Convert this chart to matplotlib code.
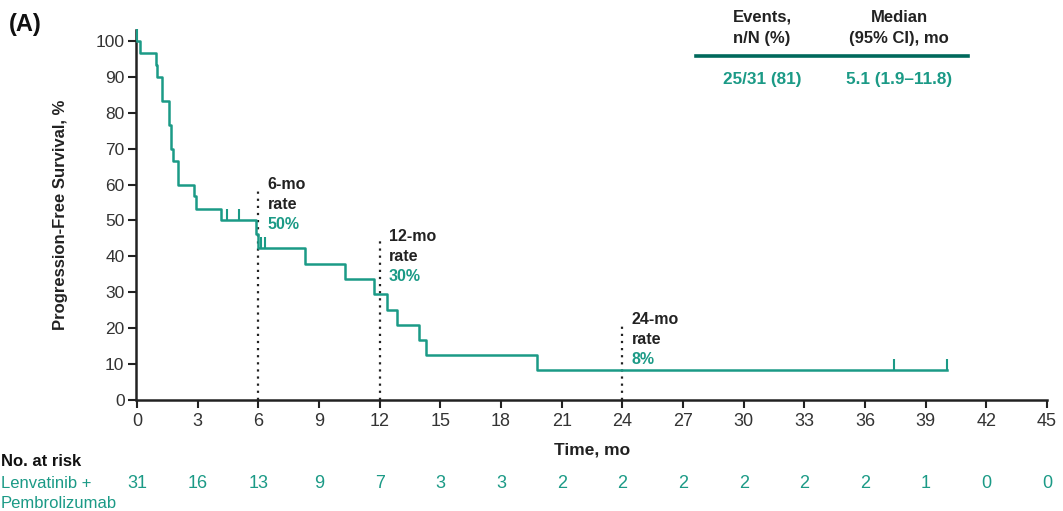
import matplotlib
matplotlib.use("Agg")
import matplotlib.pyplot as plt
import matplotlib.transforms as mtransforms
from matplotlib import font_manager

# ---------------- data ----------------
step_times = [0, 0.15, 0.94, 1.0, 1.25, 1.6, 1.67, 1.8, 2.04, 2.83, 2.92, 4.15,
              5.9, 6.0, 8.3, 10.3, 11.72, 12.38, 12.87, 13.96, 14.27, 19.8, 40.06]
step_surv = [100, 96.7, 93.3, 90.0, 83.3, 76.7, 70.0, 66.7, 60.0, 56.7, 53.3, 50.0,
             46.2, 42.2, 37.9, 33.6, 29.4, 25.2, 20.9, 16.7, 12.5, 8.3, 8.3]
censor_times = [0.0, 4.43, 5.04, 6.15, 6.35, 37.45, 40.06]
censor_surv = [100, 50.0, 50.0, 42.2, 42.2, 8.3, 8.3]

landmark_months = [6, 12, 24]
landmark_labels = ["6-mo", "12-mo", "24-mo"]
landmark_rates = ["50%", "30%", "8%"]
landmark_line_top = [59, 44.5, 21.5]

risk_times = [0, 3, 6, 9, 12, 15, 18, 21, 24, 27, 30, 33, 36, 39, 42, 45]
risk_counts = [31, 16, 13, 9, 7, 3, 3, 2, 2, 2, 2, 2, 2, 1, 0, 0]

x_ticks = list(range(0, 46, 3))
y_ticks = list(range(0, 101, 10))

table_headers = ["Events,\nn/N (%)", "Median\n(95% CI), mo"]
table_values = ["25/31 (81)", "5.1 (1.9\u201311.8)"]

# ---------------- style ----------------
TEAL = "#1b9a86"
DARK_TEAL = "#00695c"
BLACK = "#222222"

available = {f.name for f in font_manager.fontManager.ttflist}
base_font = "Liberation Sans" if "Liberation Sans" in available else "DejaVu Sans"
narrow_font = "Liberation Sans Narrow" if "Liberation Sans Narrow" in available else base_font
plt.rcParams["font.family"] = [base_font, "DejaVu Sans"]

W, H = 1063, 511
fig = plt.figure(figsize=(W / 100, H / 100), dpi=100)

# axes placement in pixels
x0_px, x45_px = 137, 1047
y0_px, y103_px = 400, 30.2
ax = fig.add_axes([x0_px / W, 1 - y0_px / H, (x45_px - x0_px) / W, (y0_px - y103_px) / H])
ax.set_xlim(0, 45)
ax.set_ylim(0, 103)

for s in ["top", "right"]:
    ax.spines[s].set_visible(False)
for s in ["left", "bottom"]:
    ax.spines[s].set_linewidth(1.8)
    ax.spines[s].set_color(BLACK)
ax.spines["left"].set_position(("outward", 1))

ax.set_xticks(x_ticks)
ax.set_yticks(y_ticks)
ax.tick_params(axis="both", direction="out", length=6, width=1.5, color=BLACK,
               labelcolor="#333333", labelsize=12.5)
ax.tick_params(axis="y", pad=2)
for lab in ax.get_xticklabels():
    lab.set_fontfamily([narrow_font, "DejaVu Sans"])
    lab.set_fontsize(13)

ax.set_ylabel("Progression-Free Survival, %", fontsize=12, fontweight="bold",
              color=BLACK, labelpad=20)
ax.set_xlabel("Time, mo", fontsize=12.5, fontweight="bold", color=BLACK,
              family=[narrow_font, "DejaVu Sans"], labelpad=9)

# KM curve
ax.step(step_times, step_surv, where="post", color=TEAL, lw=1.8, clip_on=False, zorder=3)
ax.vlines(censor_times, censor_surv, [c + 3.2 for c in censor_surv], color=TEAL, lw=1.5,
          clip_on=False, zorder=3)

# landmark lines and annotations
for m, lab, rate, top in zip(landmark_months, landmark_labels, landmark_rates, landmark_line_top):
    ax.vlines(m, 0, top, colors=BLACK, linestyles=(0, (1, 2.2)), lw=1.6, zorder=2)
    xt = m + 0.45
    ax.text(xt, top + 1.0, lab, fontsize=11.5, fontweight="bold", color=BLACK, va="center", ha="left")
    ax.text(xt, top - 4.6, "rate", fontsize=11.5, fontweight="bold", color=BLACK, va="center", ha="left")
    ax.text(xt, top - 10.2, rate, fontsize=11.5, fontweight="bold", color=TEAL, va="center", ha="left")

# panel label
fig.text(9 / W, 1 - 24 / H, "(A)", fontsize=17, fontweight="bold", color="#111111",
         va="center", ha="left")

# summary table
col_x = [762, 899]
for cx, h, v in zip(col_x, table_headers, table_values):
    fig.text(cx / W, 1 - 27.5 / H, h, fontsize=12, fontweight="bold", color=BLACK,
             ha="center", va="center", linespacing=1.5)
    fig.text(cx / W, 1 - 79 / H, v, fontsize=12.3, fontweight="bold", color=TEAL,
             ha="center", va="center")
fig.add_artist(plt.Line2D([696 / W, 968 / W], [1 - 56 / H, 1 - 56 / H], color=DARK_TEAL, lw=2.6))

# risk table
trans = mtransforms.blended_transform_factory(ax.transData, fig.transFigure)
fig.text(1 / W, 1 - 461 / H, "No. at risk", fontsize=12, fontweight="bold", color="#111111",
         ha="left", va="center", family=[narrow_font, "DejaVu Sans"])
fig.text(1 / W, 1 - 484 / H, "Lenvatinib +", fontsize=12, color=TEAL, ha="left", va="center",
         family=[narrow_font, "DejaVu Sans"])
fig.text(1 / W, 1 - 503 / H, "Pembrolizumab", fontsize=12, color=TEAL, ha="left", va="center",
         family=[narrow_font, "DejaVu Sans"])
for t, c in zip(risk_times, risk_counts):
    ax.text(t, 1 - 484 / H, str(c), transform=trans, fontsize=13, color=TEAL, ha="center",
            va="center", family=[narrow_font, "DejaVu Sans"])

fig.savefig("out.png", dpi=100)
